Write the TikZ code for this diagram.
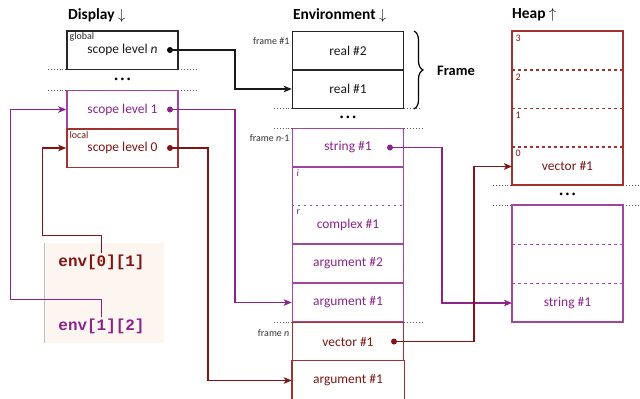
\documentclass[tikz,border=0pt]{standalone}
\usepackage{fontspec}
\setmainfont{Carlito}
\newfontfamily\codefont{Liberation Mono}
\usetikzlibrary{arrows.meta,decorations.pathreplacing,calc}
\definecolor{pur}{RGB}{140,35,140}
\definecolor{purl}{RGB}{160,70,160}
\definecolor{dred}{RGB}{130,20,20}
\definecolor{dredl}{RGB}{160,50,50}
\definecolor{codebg}{RGB}{253,246,240}
\tikzset{
  cell/.style={draw, line width=1.5bp, minimum width=111bp, minimum height=38.5bp, inner sep=0pt, font=\fontsize{13.5}{15}\selectfont, fill=white},
  pcell/.style={cell, draw=purl, text=pur},
  rcell/.style={cell, draw=dredl, text=dred},
  kcell/.style={cell, draw=black!85, text=black!90},
  sepline/.style={dotted, draw=black!65, line width=0.9bp},
  dashsep/.style={line width=1.2bp, dash pattern=on 2.5bp off 3.5bp},
  tag/.style={font=\fontsize{10}{11}\selectfont, inner sep=0.5bp},
  link/.style={line width=1.4bp, -{Stealth[length=8bp,width=6.5bp,inset=2bp]}},
  pdot/.style={circle, fill, inner sep=0pt, minimum size=6bp},
  hdr/.style={font=\bfseries\fontsize{15.5}{17}\selectfont, anchor=west, inner sep=0pt},
  ellips/.style={font=\fontsize{7.5}{8}\selectfont, inner sep=0pt},
  code/.style={font=\codefont\bfseries\fontsize{16}{18}\selectfont, inner sep=1bp}
}
\begin{document}
\begin{tikzpicture}[x=1bp,y=-1bp]
\useasboundingbox (0,0) rectangle (640,398);

% headers
\node[hdr] (hd) at (68,15) {Display $\downarrow$};
\node[hdr] (he) at (293,15) {Environment $\downarrow$};
\node[hdr] (hh) at (512,15) {Heap $\uparrow$};

% separator lines
\draw[sepline] (48,69) -- (198,69);
\draw[sepline] (48,90) -- (198,90);
\node[ellips] (dd) at (122.5,80) {\textbullet\hspace{2.5bp}\textbullet\hspace{2.5bp}\textbullet};
\draw[sepline] (274,108.5) -- (420,108.5);
\draw[sepline] (274,128) -- (422,128);
\node[ellips] (de) at (348,118) {\textbullet\hspace{2.5bp}\textbullet\hspace{2.5bp}\textbullet};
\draw[sepline] (274,322) -- (422,322);
\draw[sepline] (493,185) -- (640,185);
\draw[sepline] (493,205.5) -- (640,205.5);
\node[ellips] (dh) at (567.5,195) {\textbullet\hspace{2.5bp}\textbullet\hspace{2.5bp}\textbullet};

% code box
\fill[codebg] (44,243) rectangle (164,343);
\draw[black!25, line width=0.8bp] (44,243) -- (44,343);
\node[code, text=dred] (e01) at (101.5,262) {env[0][1]};
\node[code, text=pur] (e12) at (101.5,326) {env[1][2]};

% display
\node[kcell] (sn) at (122.5,50) {scope level \textit{n}};
\node[pcell] (s1) at (122.5,109.5) {scope level 1};
\node[rcell] (s0) at (122.5,148) {scope level 0};
\node[tag, anchor=north west, text=black!85] (gl) at (69,32) {global};
\node[tag, anchor=north west, text=dred] (lc) at (69,130.5) {local};

% environment
\node[kcell] (r2) at (348,50.5) {real \#2};
\node[kcell] (r1) at (348,89) {real \#1};
\node[pcell] (st) at (348,147.5) {string \#1};
\node[pcell, minimum height=77bp] (cx) at (348,205.5) {};
\draw[purl, dashsep] (cx.west) -- (cx.east);
\node[text=pur, font=\fontsize{13.5}{15}\selectfont, inner sep=0pt] (cxt) at (348,225) {complex \#1};
\node[tag, anchor=north west, text=pur] (ci) at (296,169) {\textit{i}};
\node[tag, anchor=north west, text=pur] (cr) at (296,208.5) {r};
\node[pcell] (a2) at (348,263.5) {argument \#2};
\node[pcell] (a1) at (348,302.5) {argument \#1};
\node[rcell] (ve) at (348,341.5) {vector \#1};
\node[cell, draw=none, text=dred, minimum height=39bp] (fa) at (348,380.5) {argument \#1};
\draw[dredl, line width=1.5bp] (fa.south west) -- (fa.north west) -- (fa.north east) -- (fa.south east);
\node[tag, anchor=east, text=black!80] (f1) at (290,41) {frame \#1};
\node[tag, anchor=east, text=black!80] (fn1) at (290,138) {frame \textit{n}-1};
\node[tag, anchor=east, text=black!80] (fn) at (290,333) {frame \textit{n}};
\draw[decorate, decoration={brace, amplitude=9bp}, line width=1.2bp] (414,31) -- (414,109);
\node[font=\bfseries\fontsize{14.5}{16}\selectfont, anchor=west, inner sep=0pt] (fr) at (437,71) {Frame};

% heap
\node[rcell, minimum height=154bp] (hv) at (567.5,108) {};
\draw[dredl, dashsep] (512,70) -- (623,70);
\draw[dredl, dashsep] (512,108.5) -- (623,108.5);
\draw[dredl, dashsep] (512,147) -- (623,147);
\node[text=dred, font=\fontsize{13.5}{15}\selectfont, inner sep=0pt] (hvt) at (567.5,166.5) {vector \#1};
\node[tag, anchor=north west, text=dred] (h3) at (515,34) {3};
\node[tag, anchor=north west, text=dred] (h2) at (515,73) {2};
\node[tag, anchor=north west, text=dred] (h1) at (515,111) {1};
\node[tag, anchor=north west, text=dred] (h0) at (515,149.5) {0};
\node[pcell, minimum height=117bp] (hs) at (567.5,263.5) {};
\draw[purl, dashsep] (512,244.5) -- (623,244.5);
\draw[purl, dashsep] (512,283.5) -- (623,283.5);
\node[text=pur, font=\fontsize{13.5}{15}\selectfont, inner sep=0pt] (hst) at (567.5,303) {string \#1};
\coordinate (hvin) at (512,166.5);
\coordinate (hsin) at (512,303);

% dots
\node[pdot, black] (dn) at (170,50) {};
\node[pdot, pur] (d1) at (170,109.5) {};
\node[pdot, dred] (d0) at (170,148) {};
\node[pdot, pur] (ds) at (390,147.5) {};
\node[pdot, dred] (dv) at (394,341.5) {};

% connectors
\draw[link, black!90] (dn.center) -- ++(65,0) |- (r1.west);
\draw[link, pur] (d1.center) -- ++(65,0) |- (a1.west);
\draw[link, dred] (d0.center) -- ++(38,0) |- (fa.west);
\draw[link, pur] (ds.center) -- ++(52,0) |- (hsin);
\draw[link, dred] (dv.center) -- ++(80,0) |- (hvin);
\draw[link, dred] (e01.north) -- ++(0,-18) -| ($(s0.west)+(-24,0)$) -- (s0.west);
\draw[link, pur] (e12.north) -- ++(0,-18) -| ($(s1.west)+(-56,0)$) -- (s1.west);
\end{tikzpicture}
\end{document}
